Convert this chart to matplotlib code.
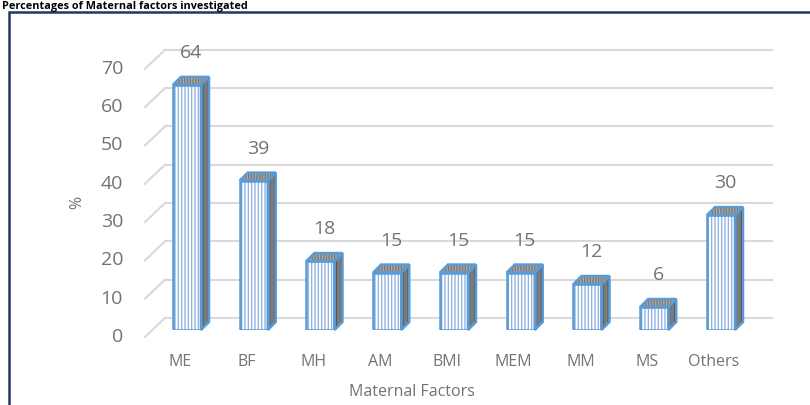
import matplotlib
matplotlib.use('Agg')
import matplotlib.pyplot as plt
import matplotlib.transforms as mtransforms
from matplotlib.patches import Polygon, Rectangle
from matplotlib.lines import Line2D

categories = ['ME', 'BF', 'MH', 'AM', 'BMI', 'MEM', 'MM', 'MS', 'Others']
values = [64, 39, 18, 15, 15, 15, 12, 6, 30]
y_ticks = [0, 10, 20, 30, 40, 50, 60, 70]

plt.rcParams['font.family'] = ['Open Sans', 'DejaVu Sans']
plt.rcParams['hatch.linewidth'] = 1.0

W, H = 810, 405
fig = plt.figure(figsize=(W / 100, H / 100), dpi=100)
# front plane of the bars
ax = fig.add_axes([153.6 / W, 75 / H, 600.75 / W, 268.1 / H])
ax.set_xlim(-0.5, 8.5)
ax.set_ylim(0, 70)
ax.axis('off')

grey = '#737373'
blue = '#5B9BD5'
ident = mtransforms.IdentityTransform()


def off(dx, dy):
    return mtransforms.offset_copy(ax.transData, fig=fig, x=dx, y=dy, units='dots')


def px(x, y):
    return ax.transData.transform((x, y))


# border box and caption above it
fig.add_artist(Rectangle((9 / W, -0.2), 1.5, 1.2 - 12 / H, transform=fig.transFigure,
                         fill=False, edgecolor='#1F3864', lw=1.8))
fig.text(2 / W, 1 - 9.3 / H, 'Percentages of Maternal factors investigated', ha='left',
         va='baseline', fontsize=7.8, fontweight='bold', color='black')

# back wall gridlines + floor diagonals
for v in y_ticks:
    x0, y0 = px(-0.33, v)
    x1, y1 = px(8.76, v)
    ax.add_line(Line2D([x0, x1], [y0 + 12, y1 + 12], transform=ident, color='#D9D9D9',
                       lw=1.5, clip_on=False, zorder=0))
    fx, fy = px(-0.63, v)
    ax.add_line(Line2D([fx, x0], [fy - 7, y0 + 12], transform=ident, color='#D9D9D9',
                       lw=1.5, clip_on=False, zorder=0))
    ax.text(-0.958, v, str(v), transform=off(0, -7), ha='right', va='center',
            fontsize=14, color=grey)

xs = list(range(len(categories)))
bw = 0.42
d = 8
ax.bar(xs, values, width=bw, color='white', edgecolor='#93B3E2', hatch='|' * 5, lw=0, zorder=2)
ax.bar(xs, values, width=bw, fill=False, edgecolor=blue, lw=1.8, zorder=3)

for i, v in enumerate(values):
    lx, by = px(i - bw / 2, 0)
    rx, ty = px(i + bw / 2, v)
    side = Polygon([(rx, by), (rx, ty), (rx + d, ty + d), (rx + d, by + d)], closed=True,
                   transform=ident, facecolor='#7A7A7A', edgecolor='#4D4D4D', hatch='|||',
                   lw=0, zorder=2, clip_on=False)
    ax.add_patch(side)
    ax.add_patch(Polygon(side.get_xy(), closed=True, transform=ident, fill=False,
                         edgecolor=blue, lw=1.8, zorder=3, clip_on=False))
    top = Polygon([(lx, ty), (rx, ty), (rx + d, ty + d), (lx + d, ty + d)], closed=True,
                  transform=ident, facecolor='#A8A8A8', edgecolor='#7A7A7A', hatch='||||||',
                  lw=0, zorder=2, clip_on=False)
    ax.add_patch(top)
    ax.add_patch(Polygon(top.get_xy(), closed=True, transform=ident, fill=False,
                         edgecolor=blue, lw=1.8, zorder=3, clip_on=False))
    ax.text(i, v, str(v), transform=off(4, 32), ha='center', va='center',
            fontsize=14, color=grey)
    ax.text(i, 0, categories[i], transform=off(-7, -32), ha='center', va='center',
            fontsize=11.5, color=grey)

fig.text(77 / W, 1 - 202 / H, '%', rotation=90, ha='center', va='center',
         fontsize=11.5, color=grey)
fig.text(412 / W, 1 - 392 / H, 'Maternal Factors', ha='center', va='center',
         fontsize=11.5, color=grey)

fig.savefig('out.png', dpi=100)
